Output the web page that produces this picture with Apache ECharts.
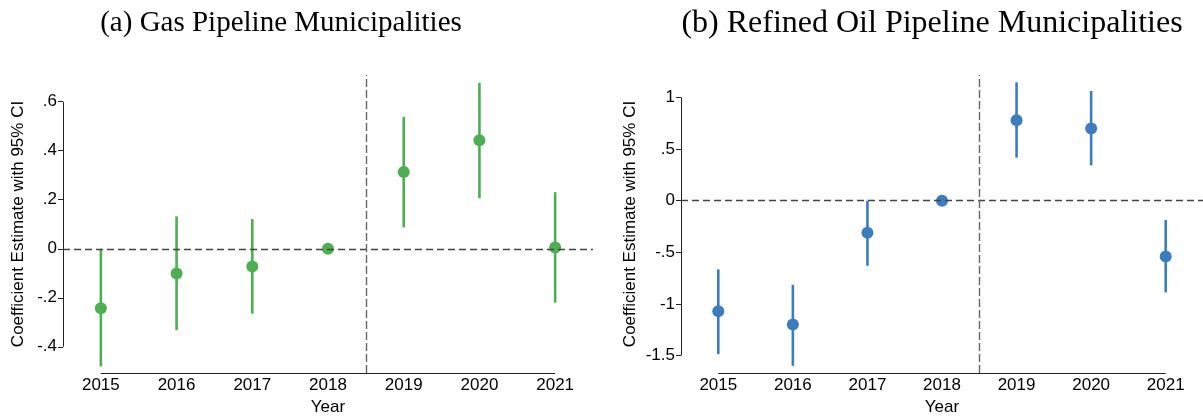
<!DOCTYPE html>
<html>
<head>
<meta charset="utf-8">
<script src="https://cdn.jsdelivr.net/npm/echarts@6/dist/echarts.min.js"></script>
<style>html,body{margin:0;padding:0;background:#fff}#c{width:1203px;height:418px}</style>
</head>
<body>
<div id="c"></div>
<script>
const years = [2015, 2016, 2017, 2018, 2019, 2020, 2021];
const gasCoef = [-0.243, -0.101, -0.072, 0, 0.313, 0.443, 0.005];
const gasLow  = [-0.480, -0.332, -0.265, null, 0.087, 0.206, -0.220];
const gasHigh = [0.000, 0.132, 0.121, null, 0.538, 0.677, 0.231];
const oilCoef = [-1.07, -1.20, -0.31, 0, 0.78, 0.70, -0.54];
const oilLow  = [-1.486, -1.599, -0.630, null, 0.417, 0.343, -0.888];
const oilHigh = [-0.665, -0.814, 0.000, null, 1.147, 1.063, -0.187];
const gasTicks = [-0.4, -0.2, 0, 0.2, 0.4, 0.6];
const gasTickLabels = ['-.4', '-.2', '0', '.2', '.4', '.6'];
const oilTicks = [-1.5, -1, -0.5, 0, 0.5, 1];
const oilTickLabels = ['-1.5', '-1', '-.5', '0', '.5', '1'];
const titles = ['(a) Gas Pipeline Municipalities', '(b) Refined Oil Pipeline Municipalities'];
const yName = 'Coefficient Estimate with 95% CI';
const xName = 'Year';
const treatLine = 2018.5;

const GREEN = '#4caf50', BLUE = '#3b7dbf';
const SANS = 'Liberation Sans, Arial, Helvetica, sans-serif';
const SERIF = 'Liberation Serif, DejaVu Serif, serif';
const xMin = 2014.5, xMax = 2021.5;
const ranges = [[-0.507, 0.709], [-1.669, 1.218]];

function errData(lo, hi) {
  const out = [];
  years.forEach((y, i) => { if (lo[i] !== null) out.push([y, lo[i], hi[i]]); });
  return out;
}
function errSeries(idx, lo, hi, color) {
  return {
    type: 'custom', xAxisIndex: idx, yAxisIndex: idx, z: 3, silent: true,
    data: errData(lo, hi),
    renderItem: function (params, api) {
      const a = api.coord([api.value(0), api.value(1)]);
      const b = api.coord([api.value(0), api.value(2)]);
      return { type: 'line', shape: { x1: a[0], y1: a[1], x2: b[0], y2: b[1] },
               style: { stroke: color, lineWidth: 2.6 } };
    }
  };
}
function frameSeries(idx, ticks) {
  const yr = ranges[idx];
  return {
    type: 'line', xAxisIndex: idx, yAxisIndex: idx, data: [], z: 2, silent: true,
    markLine: {
      silent: true, symbol: 'none', label: { show: false }, animation: false,
      data: [
        [{ coord: [years[0], yr[0]], lineStyle: { color: '#222', width: 1, type: 'solid' } },
         { coord: [years[years.length - 1], yr[0]] }],
        [{ coord: [xMin, ticks[0]], lineStyle: { color: '#222', width: 1, type: 'solid' } },
         { coord: [xMin, ticks[ticks.length - 1]] }],
        [{ coord: [xMin, 0], lineStyle: { color: '#444', width: 1.4, type: [7, 4] } },
         { coord: [xMax, 0] }],
        [{ coord: [treatLine, yr[0]], lineStyle: { color: '#666', width: 1.4, type: [8, 3] } },
         { coord: [treatLine, yr[1]] }]
      ]
    }
  };
}
function pointSeries(idx, coef, color) {
  return {
    type: 'scatter', xAxisIndex: idx, yAxisIndex: idx, z: 4, symbolSize: 12,
    itemStyle: { color: color, opacity: 1 },
    data: years.map((y, i) => [y, coef[i]])
  };
}
function xAxis(idx) {
  return {
    type: 'value', gridIndex: idx, min: xMin, max: xMax,
    axisLine: { show: false }, axisTick: { show: false }, splitLine: { show: false },
    axisLabel: { customValues: years, color: '#000', fontSize: 17, fontFamily: SANS, margin: 4,
                 formatter: v => String(v) },
    name: xName, nameLocation: 'middle', nameGap: 22,
    nameTextStyle: { color: '#000', fontSize: 17, fontFamily: SANS }
  };
}
function yAxis(idx, ticks, labels, gap) {
  return {
    type: 'value', gridIndex: idx, min: ranges[idx][0], max: ranges[idx][1],
    axisLine: { show: false }, splitLine: { show: false },
    axisTick: { show: true, customValues: ticks, length: 5, inside: false,
                lineStyle: { color: '#222', width: 1 } },
    axisLabel: { customValues: ticks, color: '#000', fontSize: 17, fontFamily: SANS, margin: 6,
                 formatter: v => { const k = ticks.findIndex(t => Math.abs(t - v) < 1e-9); return k >= 0 ? labels[k] : ''; } },
    name: yName, nameLocation: 'middle', nameGap: gap, nameRotate: 90,
    nameTextStyle: { color: '#000', fontSize: 17, fontFamily: SANS }
  };
}

const chart = echarts.init(document.getElementById('c'), null, { renderer: 'canvas' });
chart.setOption({
  animation: false,
  backgroundColor: '#fff',
  title: [
    { text: titles[0], left: 276, top: 4, textAlign: 'center',
      textStyle: { fontFamily: SERIF, fontWeight: 'normal', fontSize: 29, color: '#000' } },
    { text: titles[1], left: 927, top: 3, textAlign: 'center',
      textStyle: { fontFamily: SERIF, fontWeight: 'normal', fontSize: 32, color: '#000' } }
  ],
  grid: [
    { left: 63, right: 610, top: 75, bottom: 45, containLabel: false, outerBoundsMode: 'none' },
    { left: 681, right: 0, top: 75, bottom: 45, containLabel: false, outerBoundsMode: 'none' }
  ],
  xAxis: [xAxis(0), xAxis(1)],
  yAxis: [yAxis(0, gasTicks, gasTickLabels, 36), yAxis(1, oilTicks, oilTickLabels, 42)],
  series: [
    frameSeries(0, gasTicks), errSeries(0, gasLow, gasHigh, GREEN), pointSeries(0, gasCoef, GREEN),
    frameSeries(1, oilTicks), errSeries(1, oilLow, oilHigh, BLUE), pointSeries(1, oilCoef, BLUE)
  ]
});
</script>
</body>
</html>
